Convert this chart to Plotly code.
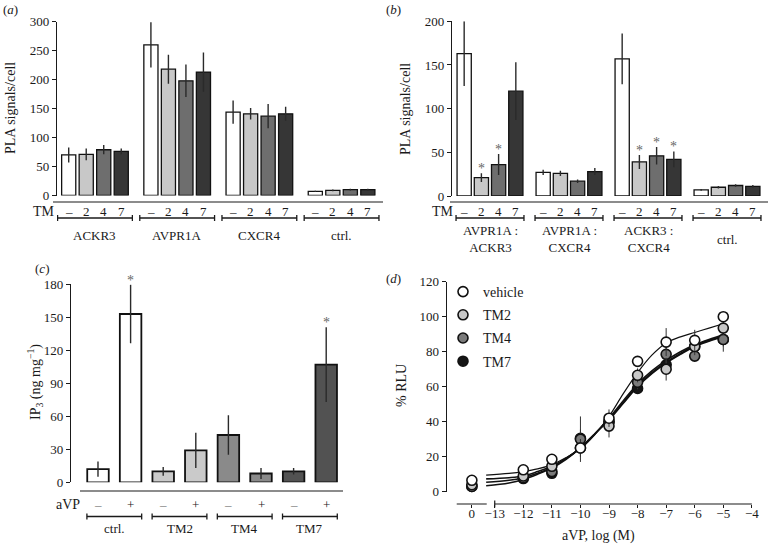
import plotly.graph_objects as go

W, H = 769, 544
FONT = "Liberation Serif, Times New Roman, serif"
INK = "#1a1a1a"


def px(x):
    return x / W


def py(y):
    return 1 - y / H


# ---------------- panel (a) data ----------------
A_GROUPS = ["ACKR3", "AVPR1A", "CXCR4", "ctrl."]
TM_LABELS = ["–", "2", "4", "7"]
A_TM_NONE = [70, 260, 144, 7]
A_TM2 = [71, 218, 141, 9]
A_TM4 = [79, 198, 137, 10]
A_TM7 = [76, 213, 141, 10]
A_ERR_NONE = [13, 39, 20, 1]
A_ERR_TM2 = [10, 25, 10, 1.5]
A_ERR_TM4 = [8, 28, 21, 1.5]
A_ERR_TM7 = [5, 34, 12, 1.5]

# ---------------- panel (b) data ----------------
B_GROUPS = ["AVPR1A :<br>ACKR3", "AVPR1A :<br>CXCR4", "ACKR3 :<br>CXCR4", "ctrl."]
B_TM_NONE = [163, 27, 157, 7]
B_TM2 = [21, 26, 39, 10]
B_TM4 = [36, 17, 46, 12]
B_TM7 = [120, 28, 42, 11]
B_ERR_NONE = [37, 3, 29, 1]
B_ERR_TM2 = [5, 3, 8, 1.5]
B_ERR_TM4 = [12, 2, 10, 1.5]
B_ERR_TM7 = [33, 4, 9, 1.5]
B_STAR_TM2 = [True, False, True, False]
B_STAR_TM4 = [True, False, True, False]
B_STAR_TM7 = [False, False, True, False]

# ---------------- panel (c) data ----------------
C_GROUPS = ["ctrl.", "TM2", "TM4", "TM7"]
C_AVP_LABELS = ["–", "+"]
C_NO_AVP = [12, 10, 43, 10]
C_AVP = [153, 29, 8, 107]
C_ERR_NO_AVP = [7, 4, 18, 3]
C_ERR_AVP = [26.5, 16, 5, 34]
C_STAR_AVP = [True, False, False, True]

# ---------------- panel (d) data ----------------
D_DOSE = [0, -12, -11, -10, -9, -8, -7, -6, -5]      # 0 = no agonist
D_VEHICLE = [6.5, 12.5, 18.5, 25, 42, 74.5, 85.5, 86.5, 100]
D_TM2 = [4, 9, 14.5, 25, 37.5, 66.5, 70, 83, 93.5]
D_TM4 = [3, 8, 11.5, 30, 40, 62.5, 78.5, 77.5, 87]
D_TM7 = [3, 7.5, 10.5, 30.5, 40, 59, 72.5, 83, 87]
D_ERR_VEHICLE = [1, 1.5, 2, 5, 5, 3, 8, 6, 2]
D_ERR_TM2 = [1, 1, 1.5, 5, 6.5, 4, 6.5, 5, 4]
D_ERR_TM4 = [1, 1, 1, 13, 5, 4, 5, 3, 7]
D_ERR_TM7 = [1, 1, 1, 5, 4, 3, 5, 4, 4]
D_FIT_X = [-13.3, -12.5, -12, -11.5, -11, -10.5, -10, -9.5, -9, -8.5, -8,
           -7.5, -7, -6.5, -6, -5.5, -5]
D_FIT_VEHICLE = [9.5, 10.5, 11.5, 13, 15.5, 19.5, 24.5, 32.5, 43, 56, 68,
                 78, 85, 88.5, 91, 93.5, 96]
D_FIT_TM2 = [7.3, 8, 9, 11.5, 14.5, 19, 25, 33, 42, 52, 61.5, 69, 75, 80,
             84, 87, 89.5]
D_FIT_TM4 = [5.4, 6.5, 8, 10.5, 14, 19, 25, 33, 41.5, 51, 60.5, 68, 74,
             79, 83.5, 86.5, 89]
D_FIT_TM7 = [3.4, 5, 7, 10, 13.5, 18.5, 25, 33, 41, 50.5, 60, 67.5, 73.5,
             78.5, 83, 86, 88.5]
D_XTICKS = [-13, -12, -11, -10, -9, -8, -7, -6, -5, -4]
D_ZERO_POS = -13.8   # where the "0" (no agonist) category sits on the broken axis

fig = go.Figure()
shapes = []
annots = []

TM_COLORS_AB = ["#ffffff", "#c8c8c8", "#6e6e6e", "#363636"]
C_COLORS = ["#ffffff", "#cacaca", "#8a8a8a", "#525252"]


def tfont(size=13, color=INK):
    return dict(family=FONT, size=size, color=color)


def note(xref, yref, x, y, text, size=13, color=INK, **kw):
    d = dict(xref=xref, yref=yref, x=x, y=y, text=text, showarrow=False,
             xanchor="center", yanchor="middle", font=tfont(size, color))
    d.update(kw)
    annots.append(d)


def bracket(xref, x0, x1, ypix, cap=3):
    shapes.append(dict(type="line", xref=xref, yref="paper", x0=x0, x1=x1,
                       y0=py(ypix), y1=py(ypix), line=dict(color=INK, width=1.3)))
    for xx in (x0, x1):
        shapes.append(dict(type="line", xref=xref, yref="paper", x0=xx, x1=xx,
                           y0=py(ypix - cap), y1=py(ypix + cap),
                           line=dict(color=INK, width=1.3)))


def bar_panel(xa, ya, series, errors, stars, spacing, width, tm_y, brk_y,
              brk_half, grp_labels, grp_y, tm_x):
    for i, (vals, errs) in enumerate(zip(series, errors)):
        off = (i - 1.5) * spacing
        xs = [g + off for g in range(len(vals))]
        fig.add_trace(go.Bar(
            x=xs, y=vals, width=width, xaxis=xa, yaxis=ya, showlegend=False,
            marker=dict(color=TM_COLORS_AB[i], line=dict(color="#111", width=1.3)),
            error_y=dict(type="data", array=errs, visible=True, color="#2a2a2a",
                         thickness=1.4, width=0),
            cliponaxis=False))
        for g, x in enumerate(xs):
            note(xa, "paper", x, py(tm_y), TM_LABELS[i])
            if stars is not None and stars[i] is not None and stars[i][g]:
                note(xa, ya, x, vals[g] + errs[g], "*", 14, "#666",
                     yanchor="bottom", yshift=-5)
    note("paper", "paper", px(tm_x), py(tm_y), "TM", 14)
    for g, lab in enumerate(grp_labels):
        bracket(xa, g - brk_half, g + brk_half, brk_y)
        note(xa, "paper", g, py(grp_y), lab)


# ---------- panel (a) ----------
bar_panel("x", "y", [A_TM_NONE, A_TM2, A_TM4, A_TM7],
          [A_ERR_NONE, A_ERR_TM2, A_ERR_TM4, A_ERR_TM7], None,
          spacing=0.213, width=0.172, tm_y=211, brk_y=218, brk_half=0.455,
          grp_labels=A_GROUPS, grp_y=235, tm_x=44)
shapes.append(dict(type="line", xref="paper", yref="paper", x0=px(53), x1=px(383),
                   y0=py(202), y1=py(202), line=dict(color=INK, width=1.2)))

# ---------- panel (b) ----------
bar_panel("x2", "y2", [B_TM_NONE, B_TM2, B_TM4, B_TM7],
          [B_ERR_NONE, B_ERR_TM2, B_ERR_TM4, B_ERR_TM7],
          [None, B_STAR_TM2, B_STAR_TM4, B_STAR_TM7],
          spacing=0.218, width=0.18, tm_y=211, brk_y=218, brk_half=0.43,
          grp_labels=B_GROUPS, grp_y=239, tm_x=443)
shapes.append(dict(type="line", xref="paper", yref="paper", x0=px(450), x1=px(768),
                   y0=py(202), y1=py(202), line=dict(color=INK, width=1.2)))

# ---------- panel (c) ----------
for g in range(len(C_GROUPS)):
    vals = [C_NO_AVP[g], C_AVP[g]]
    errs = [C_ERR_NO_AVP[g], C_ERR_AVP[g]]
    xs = [2 * g, 2 * g + 1]
    fig.add_trace(go.Bar(
        x=xs, y=vals, width=0.66, xaxis="x3", yaxis="y3", showlegend=False,
        marker=dict(color=C_COLORS[g], line=dict(color="#111", width=1.8)),
        error_y=dict(type="data", array=errs, visible=True, color="#2a2a2a",
                     thickness=1.4, width=0),
        cliponaxis=False))
    for k, x in enumerate(xs):
        note("x3", "paper", x, py(504), C_AVP_LABELS[k], 13,
             "#777" if k == 0 else INK)
    if C_STAR_AVP[g]:
        note("x3", "y3", xs[1], C_AVP[g] + C_ERR_AVP[g], "*", 14, "#666",
             yanchor="bottom", yshift=-5)
    bracket("x3", 2 * g + 0.5 - 0.84, 2 * g + 0.5 + 0.84, 516.5)
    note("x3", "paper", 2 * g + 0.5, py(528.5), C_GROUPS[g])
note("paper", "paper", px(68), py(504), "aVP", 14)
shapes.append(dict(type="line", xref="paper", yref="paper", x0=px(80), x1=px(343),
                   y0=py(491), y1=py(491), line=dict(color=INK, width=1.2)))

# ---------- panel (d) ----------
d_x = [D_ZERO_POS if d == 0 else d for d in D_DOSE]
D_STYLE = [("vehicle", D_VEHICLE, D_ERR_VEHICLE, D_FIT_VEHICLE, "#ffffff", 1.2),
           ("TM2", D_TM2, D_ERR_TM2, D_FIT_TM2, "#c8c8c8", 1.6),
           ("TM4", D_TM4, D_ERR_TM4, D_FIT_TM4, "#7a7a7a", 1.6),
           ("TM7", D_TM7, D_ERR_TM7, D_FIT_TM7, "#151515", 1.6)]
for name, ys, es, fit, col, lw in reversed(D_STYLE):
    fig.add_trace(go.Scatter(x=D_FIT_X, y=fit, mode="lines",
                             line=dict(color="#111", width=lw, shape="spline"),
                             xaxis="x4", yaxis="y4", showlegend=False,
                             hoverinfo="skip", cliponaxis=False))
for rank, (name, ys, es, fit, col, lw) in reversed(list(enumerate(D_STYLE))):
    fig.add_trace(go.Scatter(
        x=d_x, y=ys, mode="markers", name=name, xaxis="x4", yaxis="y4",
        marker=dict(size=10, color=col, line=dict(color="#111", width=1.6)),
        error_y=dict(type="data", array=es, visible=True, color="#333",
                     thickness=1, width=0),
        legendrank=rank + 1, legendgroup=name, cliponaxis=False))

# broken x axis of (d)
shapes.append(dict(type="line", xref="x4", yref="paper", x0=-14.33, x1=-13.28,
                   y0=py(504), y1=py(504), line=dict(color=INK, width=1.2)))
shapes.append(dict(type="line", xref="x4", yref="paper", x0=-13, x1=-4,
                   y0=py(504), y1=py(504), line=dict(color=INK, width=1.2)))
shapes.append(dict(type="line", xref="x4", yref="paper", x0=-13, x1=-13,
                   y0=py(500.5), y1=py(507.5), line=dict(color=INK, width=1.2)))

# axis titles and panel letters
note("paper", "paper", px(11), py(108), "PLA signals/cell", 14, textangle=-90)
note("paper", "paper", px(405), py(109), "PLA signals/cell", 14, textangle=-90)
note("paper", "paper", px(35), py(382), "IP<sub>3</sub> (ng mg<sup>−1</sup>)", 14,
     textangle=-90)
note("paper", "paper", px(401), py(386), "% RLU", 14, textangle=-90)
note("paper", "paper", px(598), py(536), "aVP, log (M)", 14)
note("paper", "paper", px(10), py(9), "(<i>a</i>)")
note("paper", "paper", px(394), py(9), "(<i>b</i>)")
note("paper", "paper", px(42), py(268), "(<i>c</i>)")
note("paper", "paper", px(394), py(278), "(<i>d</i>)")


def yax(domain_px, rng, dtick, anchor):
    return dict(domain=[py(domain_px[1]), py(domain_px[0])], range=rng, dtick=dtick,
                tick0=0, showline=True, linecolor=INK, linewidth=1.2, ticks="outside",
                ticklen=4, tickcolor=INK, tickwidth=1.2, showgrid=False, zeroline=False,
                tickfont=tfont(13), anchor=anchor, fixedrange=True, automargin=False)


def hidden_x(domain_px, rng, anchor):
    return dict(domain=[px(domain_px[0]), px(domain_px[1])], range=rng, visible=False,
                anchor=anchor, fixedrange=True, automargin=False)


fig.update_layout(
    width=W, height=H, margin=dict(l=0, r=0, t=0, b=0, pad=0, autoexpand=False),
    paper_bgcolor="white", plot_bgcolor="white", barmode="overlay",
    font=tfont(13),
    xaxis=hidden_x((57, 383), [-0.462, 3.504], "y"),
    yaxis=yax((21.7, 195.5), [0, 300], 50, "x"),
    xaxis2=hidden_x((452, 768), [-0.481, 3.519], "y2"),
    yaxis2=yax((21.3, 196), [0, 200], 50, "x2"),
    xaxis3=hidden_x((71, 343), [-0.828, 7.515], "y3"),
    yaxis3=yax((284.3, 482.3), [0, 180], 30, "x3"),
    xaxis4=dict(domain=[px(446.7), px(760)], range=[-14.681, -3.715],
                anchor="free", position=py(504), showline=False, ticks="outside",
                ticklen=3, tickcolor=INK, tickwidth=1.2, showgrid=False, zeroline=False,
                tickvals=[D_ZERO_POS] + D_XTICKS,
                ticktext=["0"] + [f"\u2212{abs(v)}" for v in D_XTICKS],
                ticklabelstandoff=-6,
                tickfont=tfont(13), fixedrange=True, automargin=False),
    yaxis4=yax((281.7, 491.7), [0, 120], 20, "x4"),
    shapes=shapes, annotations=annots,
    legend=dict(x=px(443), y=py(276), xanchor="left", yanchor="top",
                bgcolor="rgba(0,0,0,0)", borderwidth=0, font=tfont(14),
                tracegroupgap=2, itemclick=False, itemdoubleclick=False),
    showlegend=True,
)

fig.write_html("out.html", config={"displayModeBar": False},
               post_script="document.body.style.margin='0';"
                           "document.body.style.overflow='hidden';")
